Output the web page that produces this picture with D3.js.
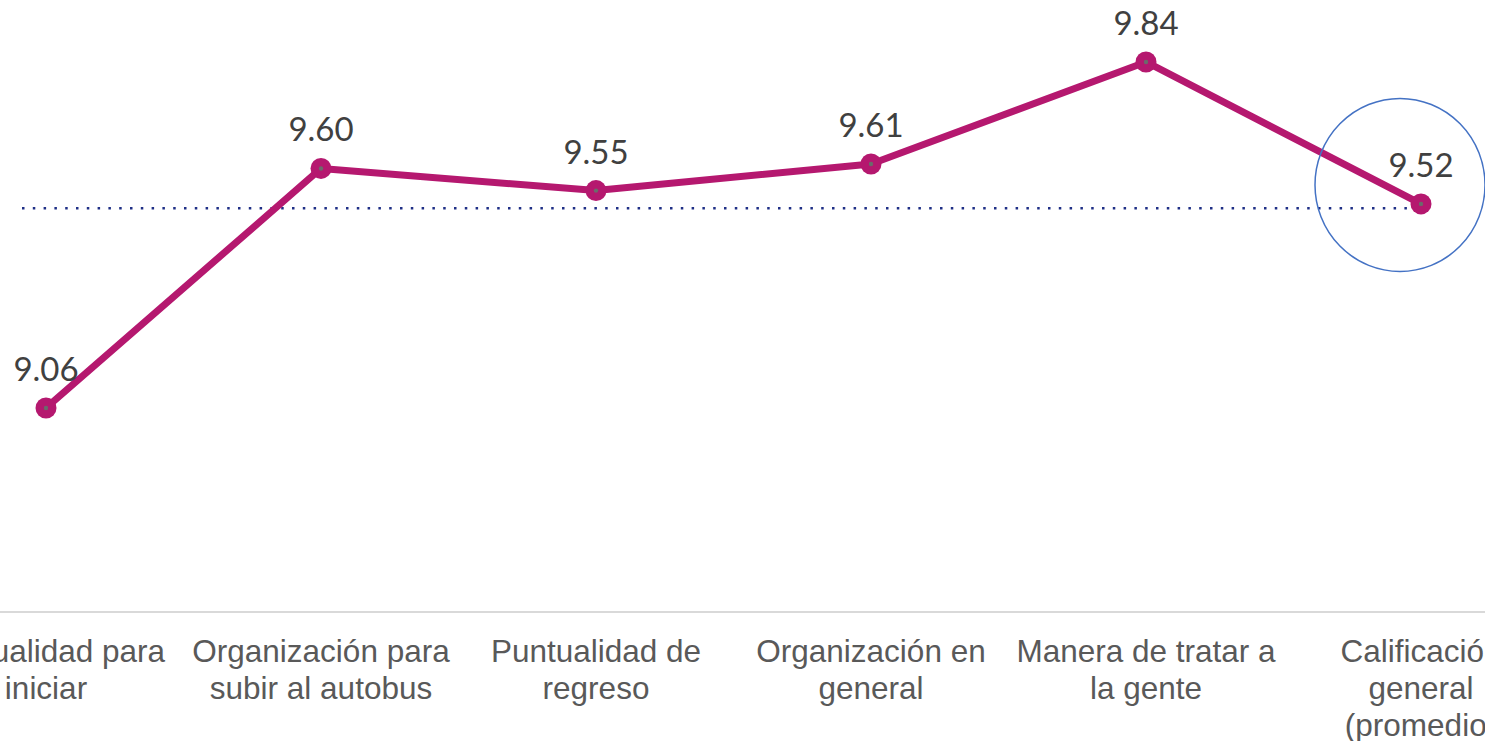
<!DOCTYPE html>
<html>
<head>
<meta charset="utf-8">
<script src="https://cdn.jsdelivr.net/npm/d3@7"></script>
<style>
  html, body { margin: 0; padding: 0; background: #fff; overflow: hidden; }
  svg { display: block; }
</style>
</head>
<body>
<svg id="chart" width="1485" height="741"></svg>
<script>
const categories = [
  ["Puntualidad para", "iniciar"],
  ["Organización para", "subir al autobus"],
  ["Puntualidad de", "regreso"],
  ["Organización en", "general"],
  ["Manera de tratar a", "la gente"],
  ["Calificación", "general", "(promedio)"]
];
const values = [9.06, 9.60, 9.55, 9.61, 9.84, 9.52];
const valueLabels = ["9.06", "9.60", "9.55", "9.61", "9.84", "9.52"];
const referenceValue = 9.51;
const yDomain = [8.6, 10.0];

const svg = d3.select("#chart");
const keys = categories.map(c => c.join(" "));

const x = d3.scalePoint().domain(keys).range([46, 1421]);
const y = d3.scaleLinear().domain(yDomain).range([612, -9]);

// axis baseline
const xAxis = d3.axisBottom(x).tickSize(0).tickFormat("");
const axisG = svg.append("g").attr("transform", `translate(0,${y(yDomain[0])})`).call(xAxis);
axisG.select(".domain").attr("d", "M-200,0H1700").attr("stroke", "#D9D9D9").attr("stroke-width", 2);

// category labels
const lab = svg.append("g");
categories.forEach((lines, i) => {
  const t = lab.append("text")
    .attr("x", x(keys[i]))
    .attr("y", 662)
    .attr("text-anchor", "middle")
    .attr("font-family", "'Liberation Sans', Arial, sans-serif")
    .attr("font-size", 31.5)
    .attr("fill", "#595959");
  lines.forEach((ln, j) => {
    t.append("tspan").attr("x", x(keys[i])).attr("dy", j === 0 ? 0 : 37).text(ln);
  });
});

// reference dotted line
svg.append("line")
  .attr("x1", 22).attr("x2", x(keys[keys.length - 1]))
  .attr("y1", y(referenceValue)).attr("y2", y(referenceValue))
  .attr("stroke", "#1F2F86")
  .attr("stroke-width", 2.5)
  .attr("stroke-dasharray", "2.5 8.3");

// series line
const line = d3.line().x((d, i) => x(keys[i])).y(d => y(d));
svg.append("path")
  .datum(values)
  .attr("d", line)
  .attr("fill", "none")
  .attr("stroke", "#B5186F")
  .attr("stroke-width", 7)
  .attr("stroke-linejoin", "round");

// markers
svg.selectAll("circle.m").data(values).enter().append("circle")
  .attr("class", "m")
  .attr("cx", (d, i) => x(keys[i])).attr("cy", d => y(d))
  .attr("r", 10.5).attr("fill", "#B5186F");
svg.selectAll("circle.c").data(values).enter().append("circle")
  .attr("class", "c")
  .attr("cx", (d, i) => x(keys[i])).attr("cy", d => y(d))
  .attr("r", 2.2).attr("fill", "#6B6B6B");

// value labels
svg.selectAll("text.v").data(values).enter().append("text")
  .attr("class", "v")
  .attr("x", (d, i) => x(keys[i]))
  .attr("y", d => y(d) - 27)
  .attr("text-anchor", "middle")
  .attr("font-family", "Lato, 'Open Sans', sans-serif")
  .attr("font-size", 33)
  .attr("fill", "#404040")
  .text((d, i) => valueLabels[i]);

// highlight ellipse around the overall score
const last = values.length - 1;
svg.append("ellipse")
  .attr("cx", x(keys[last]) - 21)
  .attr("cy", y(values[last]) - 19)
  .attr("rx", 85).attr("ry", 86.5)
  .attr("fill", "none")
  .attr("stroke", "#4472C4")
  .attr("stroke-width", 1.5);
</script>
</body>
</html>
